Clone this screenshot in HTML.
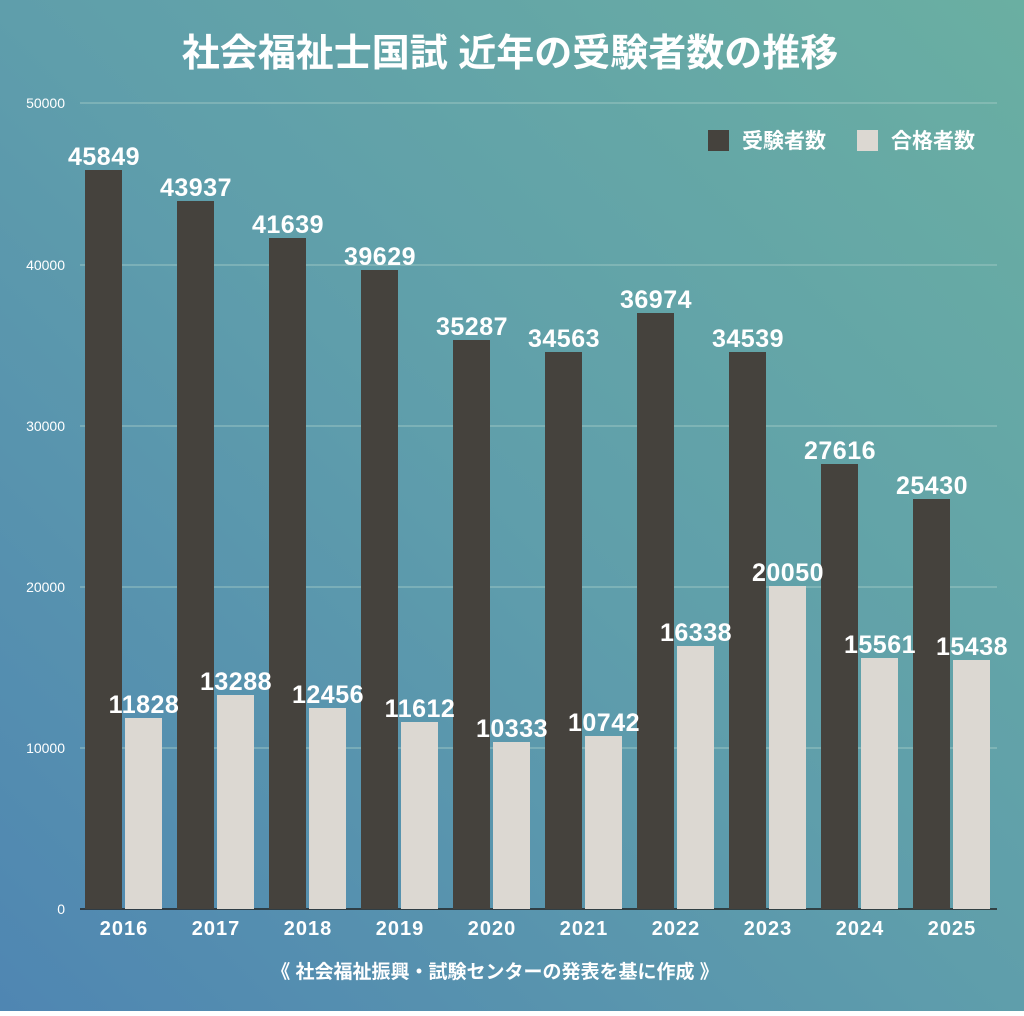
<!DOCTYPE html>
<html><head><meta charset="utf-8"><style>
html,body{margin:0;padding:0}
body{width:1024px;height:1011px;overflow:hidden;font-family:"Liberation Sans","Noto Sans CJK JP",sans-serif}
</style></head><body>
<svg width="1024" height="1011" viewBox="0 0 1024 1011" xmlns="http://www.w3.org/2000/svg" font-family="Liberation Sans, Noto Sans CJK JP, sans-serif">
<defs><linearGradient id="bg" x1="1" y1="0" x2="0" y2="1">
<stop offset="0" stop-color="#6aafa2"/><stop offset="0.5" stop-color="#5f9eab"/><stop offset="1" stop-color="#4f86b2"/></linearGradient></defs>
<rect width="1024" height="1011" fill="url(#bg)"/>
<text x="510" y="66" text-anchor="middle" font-size="38" font-weight="bold" fill="#fff">社会福祉士国試 近年の受験者数の推移</text>
<g stroke="#a9cfc9" stroke-width="1" opacity="0.8">
<line x1="80" y1="103" x2="997" y2="103"/><line x1="80" y1="265" x2="997" y2="265"/><line x1="80" y1="426" x2="997" y2="426"/><line x1="80" y1="587" x2="997" y2="587"/><line x1="80" y1="748" x2="997" y2="748"/>
</g>
<line x1="80" y1="909" x2="997" y2="909" stroke="#222" stroke-width="1.5"/>
<g font-size="14" fill="#fff" text-anchor="end">
<text x="65" y="108">50000</text><text x="65" y="270">40000</text><text x="65" y="431">30000</text><text x="65" y="592">20000</text><text x="65" y="753">10000</text><text x="65" y="914">0</text>
</g>
<g fill="#45423d">
<rect x="85" y="170" width="37" height="739"/><rect x="177" y="201" width="37" height="708"/><rect x="269" y="238" width="37" height="671"/><rect x="361" y="270" width="37" height="639"/><rect x="453" y="340" width="37" height="569"/><rect x="545" y="352" width="37" height="557"/><rect x="637" y="313" width="37" height="596"/><rect x="729" y="352" width="37" height="557"/><rect x="821" y="464" width="37" height="445"/><rect x="913" y="499" width="37" height="410"/>
</g>
<g fill="#dcd8d2">
<rect x="125" y="718" width="37" height="191"/><rect x="217" y="695" width="37" height="214"/><rect x="309" y="708" width="37" height="201"/><rect x="401" y="722" width="37" height="187"/><rect x="493" y="742" width="37" height="167"/><rect x="585" y="736" width="37" height="173"/><rect x="677" y="646" width="37" height="263"/><rect x="769" y="586" width="37" height="323"/><rect x="861" y="658" width="37" height="251"/><rect x="953" y="660" width="37" height="249"/>
</g>
<g font-size="25" font-weight="bold" fill="#fff" text-anchor="middle" letter-spacing="0.5">
<text x="104" y="165">45849</text><text x="196" y="196">43937</text><text x="288" y="233">41639</text><text x="380" y="265">39629</text><text x="472" y="335">35287</text><text x="564" y="347">34563</text><text x="656" y="308">36974</text><text x="748" y="347">34539</text><text x="840" y="459">27616</text><text x="932" y="494">25430</text>
<text x="144" y="713">11828</text><text x="236" y="690">13288</text><text x="328" y="703">12456</text><text x="420" y="717">11612</text><text x="512" y="737">10333</text><text x="604" y="731">10742</text><text x="696" y="641">16338</text><text x="788" y="581">20050</text><text x="880" y="653">15561</text><text x="972" y="655">15438</text>
</g>
<g font-size="20" font-weight="bold" fill="#fff" text-anchor="middle" letter-spacing="1">
<text x="124" y="935">2016</text><text x="216" y="935">2017</text><text x="308" y="935">2018</text><text x="400" y="935">2019</text><text x="492" y="935">2020</text><text x="584" y="935">2021</text><text x="676" y="935">2022</text><text x="768" y="935">2023</text><text x="860" y="935">2024</text><text x="952" y="935">2025</text>
</g>
<rect x="708" y="130" width="21" height="21" fill="#45423d"/>
<text x="742" y="148" font-size="21" font-weight="bold" fill="#fff">受験者数</text>
<rect x="857" y="130" width="21" height="21" fill="#dcd8d2"/>
<text x="891" y="148" font-size="21" font-weight="bold" fill="#fff">合格者数</text>
<text x="495" y="978" text-anchor="middle" font-size="19" font-weight="bold" fill="#fff">《 社会福祉振興・試験センターの発表を基に作成 》</text>
</svg>
</body></html>
